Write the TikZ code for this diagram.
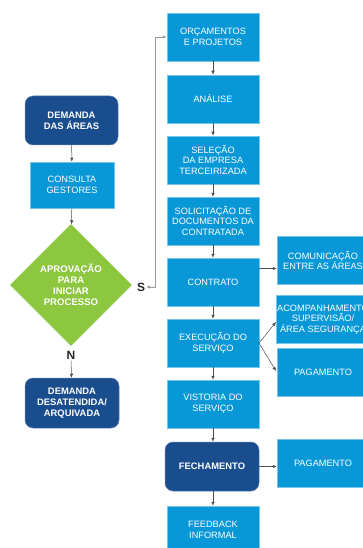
\documentclass[tikz,border=0pt]{standalone}
\usepackage{fontspec}
\setmainfont{Liberation Sans}
\usetikzlibrary{arrows.meta,shapes.geometric}
\definecolor{darkb}{RGB}{26,77,142}
\definecolor{lightb}{RGB}{8,152,215}
\definecolor{greenb}{RGB}{141,198,63}
\definecolor{arrg}{RGB}{80,80,80}
\tikzset{
  lbox/.style={rectangle, fill=lightb, draw=lightb!55!white, line width=0.5pt, text=white,
    minimum width=92pt, minimum height=48pt, inner sep=1pt, align=center,
    font=\fontsize{9.2}{10.6}\selectfont},
  dbox/.style={rectangle, rounded corners=8pt, fill=darkb, draw=darkb!70!white, line width=0.5pt, text=white,
    minimum width=93pt, minimum height=49pt, inner sep=1pt, align=center,
    font=\fontsize{9.4}{10.8}\selectfont\bfseries},
  dia/.style={diamond, fill=greenb, text=white, minimum width=122pt, minimum height=122pt,
    inner sep=0pt, align=center, font=\fontsize{9.6}{11}\selectfont\bfseries},
  lab/.style={font=\fontsize{12}{12}\selectfont\bfseries, text=black!85, inner sep=1pt},
  arr/.style={draw=arrg, line width=0.5pt, -{Latex[length=4pt,width=3.5pt]}},
  garr/.style={draw=black!40, line width=0.9pt, {Latex[length=4pt,width=3.5pt,fill=arrg]}-{Latex[length=4pt,width=3.5pt,fill=arrg]}}
}
\begin{document}
\begin{tikzpicture}[x=1pt,y=-1pt]
\useasboundingbox (0,0) rectangle (363,548);
\clip (0,0) rectangle (363,548);
% left column
\node[dbox] (dem) at (71.5,120.5) {DEMANDA\\DAS ÁREAS};
\node[lbox, minimum width=84pt, minimum height=46pt] (cons) at (72,185) {CONSULTA\\GESTORES};
\node[dia] (apr) at (71,285) {APROVAÇÃO\\PARA\\INICIAR\\PROCESSO};
\node[dbox, minimum width=94pt, minimum height=50pt] (desat) at (72,403) {DEMANDA\\DESATENDIDA/\\ARQUIVADA};
\node[lab] (N) at (71,355) {N};
\node[lab] (S) at (141,287) {S};
% right column
\node[lbox] (orc) at (213,37) {ORÇAMENTOS\\E PROJETOS};
\node[lbox] (ana) at (213,99) {ANÁLISE};
\node[lbox] (sel) at (213,160) {SELEÇÃO\\DA EMPRESA\\TERCEIRIZADA};
\node[lbox] (sol) at (213,221) {SOLICITAÇÃO DE\\DOCUMENTOS DA\\CONTRATADA};
\node[lbox] (con) at (213,282) {CONTRATO};
\node[lbox] (exe) at (213,343) {EXECUÇÃO DO\\SERVIÇO};
\node[lbox] (vis) at (213,404) {VISTORIA DO\\SERVIÇO};
\node[dbox, minimum width=94pt] (fec) at (212,466.5) {FECHAMENTO};
\node[lbox] (fee) at (213,530) {FEEDBACK\\INFORMAL};
% far right
\node[lbox] (com) at (323,260.5) {COMUNICAÇÃO\\ENTRE AS ÁREAS};
\node[lbox] (aco) at (323,319.5) {ACOMPANHAMENTO\\SUPERVISÃO/\\ÁREA SEGURANÇA};
\node[lbox] (pag) at (323,372) {PAGAMENTO};
\node[lbox] (pag2) at (323,463) {PAGAMENTO};
% connectors left
\draw[arr] (dem) -- (cons);
\draw[arr] (cons) -- (apr);
\draw[arr] (N) -- (desat);
\coordinate (bend) at (155,37);
\draw[garr] (S.east) -| (bend) -- (orc.west);
% right column connectors
\draw[arr] (orc) -- (ana);
\draw[arr] (ana) -- (sel);
\draw[arr] (sel) -- (sol);
\draw[arr] (sol) -- (con);
\draw[arr] (con) -- (exe);
\draw[arr] (exe) -- (vis);
\draw[arr] (vis.south) -- (fec.north -| vis.south);
\draw[arr] (fec.south -| fee.north) -- (fee);
\coordinate (c1) at (259,268.5);
\draw[arr] (c1) -- (c1 -| com.west);
\coordinate (eo) at (259,343);
\draw[arr] (eo) -- (276,322);
\draw[arr] (eo) -- (276,371);
\draw[arr] (fec.east) -- (pag2.west |- fec.east);
\end{tikzpicture}
\end{document}
